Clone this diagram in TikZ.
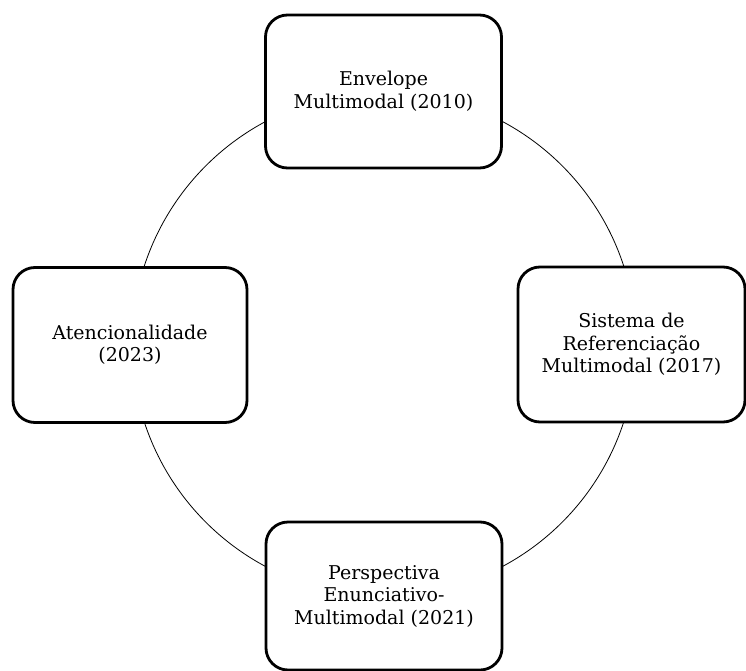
\documentclass[tikz,border=0pt]{standalone}
\usepackage{fontspec}
\setmainfont{DejaVu Serif}
\usetikzlibrary{positioning}
\tikzset{
  stage/.style={draw, line width=2.8pt, rounded corners=22pt, fill=white, align=center,
    font=\fontsize{19}{22.5}\selectfont, minimum width=236pt, minimum height=153pt, inner sep=0pt},
  ring/.style={line width=0.8pt},
}

\begin{document}
\begin{tikzpicture}[x=1pt, y=-1pt]
  \useasboundingbox (0,0) rectangle (746,671);
  % the cycle behind the four stages
  \coordinate (mid) at (384,344);
  \draw[ring] (mid) circle[radius=252pt];
  \node[stage] (envelope) at (383.5,91.5) {Envelope\\Multimodal (2010)};
  \node[stage, minimum width=227pt, minimum height=155pt] (referencia) at (631.5,344.5) {Sistema de\\Referenciação\\Multimodal (2017)};
  \node[stage, minimum height=148pt] (perspectiva) at (384,596) {Perspectiva\\Enunciativo-\\Multimodal (2021)};
  \node[stage, minimum width=234pt, minimum height=155pt] (atencao) at (130,345) {Atencionalidade\\(2023)};
\end{tikzpicture}
\end{document}
